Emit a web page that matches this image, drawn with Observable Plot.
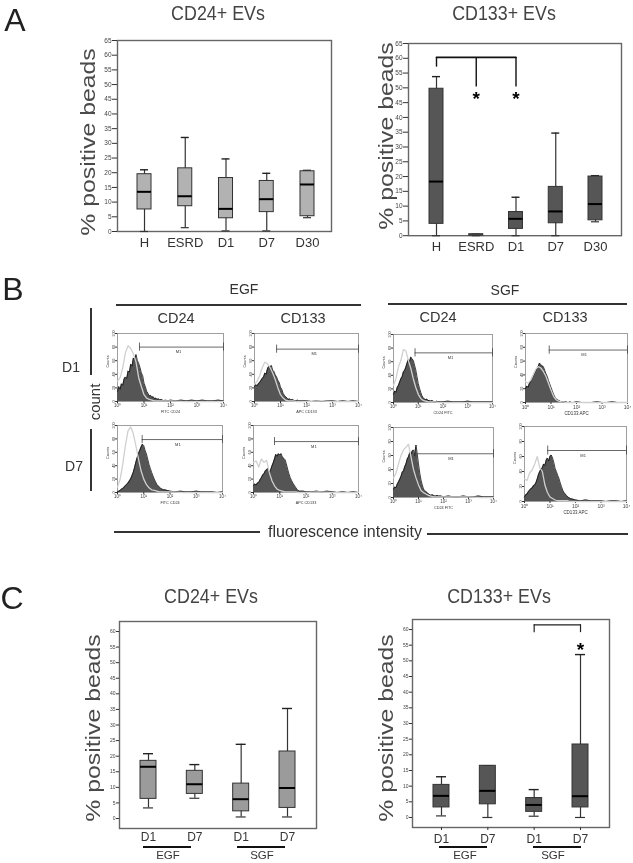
<!DOCTYPE html>
<html><head><meta charset="utf-8">
<script src="https://cdn.jsdelivr.net/npm/d3@7"></script>
<script src="https://cdn.jsdelivr.net/npm/@observablehq/plot@0.6"></script>
<style>
html,body{margin:0;padding:0;background:#fff}
#page{position:relative;width:633px;height:863px;overflow:hidden;font-family:"Liberation Sans",Arial,sans-serif;color:#333;filter:blur(.35px)}
#page svg{position:absolute;overflow:visible;background:transparent;font-family:"Liberation Sans",Arial,sans-serif}
.lb{position:absolute;white-space:nowrap;transform:translate(-50%,-50%);line-height:1}
.ln{position:absolute;background:#333}
</style></head><body><div id="page"></div>
<script>
// ---- Panel A data
const groupsA=["H","ESRD","D1","D7","D30"];
const a24Low=[0,1.3,0.2,0.2,4.7];
const a24Q1=[7.5,8.6,4.5,6.6,5.2];
const a24Med=[13.5,12,7.7,11,16];
const a24Q3=[19.5,21.5,18.2,17.2,20.5];
const a24High=[21,32,24.7,19.8,20.8];
const a133Low=[0,0,0,0,4.7];
const a133Q1=[4,0,2.3,4.2,5.2];
const a133Med=[18.3,null,5.7,8.2,10.7];
const a133Q3=[49.7,0.5,8,16.5,20];
const a133High=[53.8,0.5,13,34.7,20.3];
// ---- Panel C data
const groupsC=["EGF D1","EGF D7","SGF D1","SGF D7"];
const c24Low=[3.4,6.5,0.5,0.5];
const c24Q1=[6.3,7.9,2.3,3.4];
const c24Med=[16.6,11,6.2,9.8];
const c24Q3=[18.5,15.3,11.2,21.5];
const c24High=[20.8,17.3,23.8,35.3];
const c133Low=[0.5,0,0.4,0];
const c133Q1=[3.2,4.2,1.8,3.2];
const c133Med=[6.9,8.5,4,6.8];
const c133Q3=[10.4,16.5,6.2,23.3];
const c133High=[13,16.5,8.9,52];
// ---- Panel B data: decade positions and counts
const fillLog=[0,.05,.1,.15,.2,.25,.3,.35,.4,.45,.5,.55,.6,.65,.7,.75,.8,.85,.9,.95,1,1.05,1.1,1.15,1.2,1.25,1.3,1.35,1.4,1.45,1.5,1.55,1.6,1.65,1.7,1.75,1.8,1.9,2,2.2,2.4,2.6,2.8,3,3.2,3.4,3.6,3.8,4];
const ctrlLog=[0,.1,.2,.3,.4,.5,.6,.7,.8,.9,1,1.1,1.2,1.3,1.4,1.5,1.6,1.7,1.8,2,2.5,3,3.5,4];
const egf24D1=[15,22,18,26,24,33,36,34,45,43,55,52,64,62,69,60,56,50,42,38,27,22,15,12,8,9,6,7,4,5,3,4,2,3,2,1,2,1,2,1,2,1,2,1,2,1,1,2,1];
const egf24D1Ctrl=[30,35,50,72,82,78,70,58,35,22,10,5,3,2,1,1,1,1,1,1,0,0,0,0];
const egf133D1=[22,25,23,26,28,31,34,36,42,40,48,52,50,53,46,44,39,36,31,28,21,18,12,9,7,5,3,4,2,3,2,1,1,2,1,1,1,1,1,0,1,0,1,1,0,1,0,1,0];
const egf133D1Ctrl=[25,30,38,50,58,55,50,42,32,20,10,5,2,1,1,1,0,0,0,0,1,0,0,0];
const egf24D7=[1,2,3,5,6,8,10,12,14,17,20,25,30,37,45,52,58,63,68,72,70,63,58,50,42,36,30,25,20,16,12,10,8,6,5,4,4,3,2,1,2,1,1,2,1,1,1,0,1];
const egf24D7Ctrl=[8,20,42,70,92,98,88,70,50,32,20,12,7,4,3,2,1,1,1,1,0,0,0,0];
const egf133D7=[10,13,11,14,15,19,22,26,28,32,34,36,30,33,39,44,50,57,54,58,56,58,53,51,49,43,35,28,22,18,14,11,8,5,3,2,2,2,1,1,2,1,2,1,0,1,0,1,0];
const egf133D7Ctrl=[45,47,38,50,45,48,30,18,10,5,3,2,1,1,1,1,1,0,0,0,1,0,0,0];
const sgf24D1=[12,17,15,22,25,30,35,38,45,47,52,58,63,60,67,64,62,55,48,38,28,21,15,10,7,5,4,5,3,3,2,3,2,1,1,2,1,1,1,2,1,1,1,2,1,1,1,1,1];
const sgf24D1Ctrl=[25,35,52,62,78,76,62,50,35,22,12,6,3,2,1,1,1,1,0,0,0,0,0,0];
const sgf133D1=[20,24,22,27,30,35,38,42,46,49,52,57,55,53,52,47,42,38,32,27,22,17,12,8,5,4,3,2,1,1,1,1,1,0,0,1,0,0,1,0,0,0,1,0,0,1,0,0,0];
const sgf133D1Ctrl=[30,28,32,40,48,52,50,45,38,28,18,9,4,2,1,1,0,0,0,0,0,0,0,0];
const sgf24D7=[12,15,14,19,22,26,30,36,38,44,48,55,58,64,62,66,68,60,75,62,48,35,25,18,12,10,8,7,5,4,3,4,3,2,2,3,2,2,1,2,1,1,2,1,1,2,1,1,1];
const sgf24D7Ctrl=[28,35,48,60,68,72,76,58,40,28,18,10,7,5,3,2,1,1,1,1,1,1,0,0];
const sgf133D7=[6,9,10,13,15,17,18,21,22,25,30,36,40,43,45,50,48,55,58,54,60,62,58,52,44,40,35,31,25,20,15,12,10,8,6,5,4,3,2,1,2,1,1,1,0,1,1,0,1];
const sgf133D7Ctrl=[30,28,38,42,50,60,45,40,22,12,6,4,2,1,1,1,1,1,0,0,0,0,0,0];
const countTicks=[0,20,40,60,80,100];
const decadeTicks=[0,1,2,3,4];
const decadeLabels=["10⁰","10¹","10²","10³","10⁴"];
// M1 gate: start decade and count level
const gateStart=[.83,.85,.94,.8,.87,.93,.87,.91];
const gateLevel=[80,77,79,76,73,76,62.5,68];
const flowLabels=["FITC CD24","APC CD133","FITC CD24","APC CD133","CD24 FITC","CD133 APC","CD24 FITC","CD133 APC"];
const flowFill=[egf24D1,egf133D1,egf24D7,egf133D7,sgf24D1,sgf133D1,sgf24D7,sgf133D7];
const flowCtrl=[egf24D1Ctrl,egf133D1Ctrl,egf24D7Ctrl,egf133D7Ctrl,sgf24D1Ctrl,sgf133D1Ctrl,sgf24D7Ctrl,sgf133D7Ctrl];

const page=document.getElementById("page");
function label(t,x,y,size,o={}){
  const d=document.createElement("div");d.className="lb";d.textContent=t;
  d.style.left=x+"px";d.style.top=y+"px";d.style.fontSize=size+"px";
  d.style.color=o.color||"#333";
  if(o.spacing)d.style.letterSpacing=o.spacing+"px";
  d.style.transform="translate(-50%,-50%)"+(o.rotate?` rotate(${o.rotate}deg)`:"")+(o.sx?` scaleX(${o.sx})`:"");
  page.appendChild(d);
}
function hline(x1,x2,y,w=1.5,c="#333"){
  const d=document.createElement("div");d.className="ln";
  d.style.cssText+=`left:${x1}px;top:${y-w/2}px;width:${x2-x1}px;height:${w}px;background:${c}`;page.appendChild(d);
}
function vline(x,y1,y2,w=1.5,c="#333"){
  const d=document.createElement("div");d.className="ln";
  d.style.cssText+=`left:${x-w/2}px;top:${y1}px;width:${w}px;height:${y2-y1}px;background:${c}`;page.appendChild(d);
}
function place(svg,left,top){svg.style.left=left+"px";svg.style.top=top+"px";svg.style.maxWidth="none";page.appendChild(svg);}

function boxPanel(p){
  const rows=p.groups.map((g,i)=>({g,low:p.low[i],q1:p.q1[i],med:p.med[i],q3:p.q3[i],high:p.high[i]}));
  const L=p.frame[0]-32,T=p.frame[2]-12,R=p.frame[1]+8,B=p.frame[3]+26;
  const svg=Plot.plot({
    width:R-L,height:B-T,marginLeft:32,marginRight:8,marginTop:12,marginBottom:26,
    x:{type:"band",domain:p.groups,range:[p.xr[0]-L,p.xr[1]-L],paddingInner:p.pi,paddingOuter:0,round:false},
    y:{domain:p.yd,label:null},
    marks:[
      Plot.frame({stroke:"#666",strokeWidth:1.4}),
      Plot.axisY({ticks:d3.range(0,p.yd[1]+.1,5).filter(v=>v<=p.ymax),tickSize:p.ts,tickPadding:1,fontSize:p.fs,label:null,stroke:"#333",color:"#444"}),
      Plot.axisX({tickSize:p.xts||0,tickPadding:p.xpad,fontSize:p.xfs,label:null,color:"#333",tickFormat:d=>String(d).split(" ").pop()}),
      Plot.ruleX(rows,{x:"g",y1:"low",y2:"high",stroke:"#333",strokeWidth:1.2}),
      Plot.tickY(rows,{x:"g",y:"low",stroke:"#333",strokeWidth:1.2,insetLeft:3,insetRight:3}),
      Plot.tickY(rows,{x:"g",y:"high",stroke:"#222",strokeWidth:1.4,insetLeft:3,insetRight:3}),
      Plot.barY(rows,{x:"g",y1:"q1",y2:"q3",fill:p.fill,stroke:"#333",strokeWidth:1}),
      Plot.tickY(rows,{x:"g",y:"med",stroke:"#000",strokeWidth:2}),
      ...(p.extra||[])
    ]
  });
  place(svg,L,T);
}

// Significance brackets
const dropsA=[{g:"H",y1:60.3,y2:57},{g:"ESRD",y1:60.3,y2:50.3},{g:"D1",y1:60.3,y2:50.3}];
const starsA=[{g:"ESRD",y:47.3},{g:"D1",y:47.3}];
const dropsC=[{g:"SGF D1",y1:61.5,y2:59},{g:"SGF D7",y1:61.5,y2:59}];
const starsC=[{g:"SGF D7",y:54.6}];

boxPanel({groups:groupsA,low:a24Low,q1:a24Q1,med:a24Med,q3:a24Q3,high:a24High,fill:"#b2b2b2",
  frame:[117,331,40,231],xr:[137,314],pi:.656,yd:[0,65],ymax:65,ts:5,fs:6.5,xpad:6,xfs:13});
boxPanel({groups:groupsA,low:a133Low,q1:a133Q1,med:a133Med,q3:a133Q3,high:a133High,fill:"#565656",
  frame:[408,621,42.5,234.7],xr:[429,602],pi:.648,yd:[0,65],ymax:65,ts:5,fs:6.5,xpad:6,xfs:13,
  extra:[
    Plot.lineY([{g:"H",y:60.3},{g:"D1",y:60.3}],{x:"g",y:"y",stroke:"#111",strokeWidth:1.6}),
    Plot.ruleX(dropsA,{x:"g",y1:"y1",y2:"y2",stroke:"#111",strokeWidth:1.4}),
    Plot.text(starsA,{x:"g",y:"y",text:()=>"*",fontSize:19,fontWeight:"bold",fill:"#000",dy:3})
  ]});
boxPanel({groups:groupsC,low:c24Low,q1:c24Q1,med:c24Med,q3:c24Q3,high:c24High,fill:"#9b9b9b",
  frame:[119,316,621,828],xr:[140,295],pi:.655,yd:[-3.2,63.2],ymax:60,ts:3,fs:5,xpad:4,xfs:12});
boxPanel({groups:groupsC,low:c133Low,q1:c133Q1,med:c133Med,q3:c133Q3,high:c133High,fill:"#565656",
  frame:[412,609,619,827],xr:[433,588],pi:.655,yd:[-3.2,63.2],ymax:60,ts:3,fs:5,xpad:4,xfs:12,xts:3,
  extra:[
    Plot.lineY([{g:"SGF D1",y:61.5},{g:"SGF D7",y:61.5}],{x:"g",y:"y",stroke:"#222",strokeWidth:1.2}),
    Plot.ruleX(dropsC,{x:"g",y1:"y1",y2:"y2",stroke:"#222",strokeWidth:1.2}),
    Plot.text(starsC,{x:"g",y:"y",text:()=>"*",fontSize:19,fontWeight:"bold",fill:"#000",dy:3})
  ]});

// Panel B histograms: frame position on the page
const flowFrames=[[117,223,333,401],[254,358,333,401],[117,222,425,492],[253,358,425,492],
  [393,492,334,402],[525,627,333,402],[393,493,427,497],[524,626,426,501]];
flowFrames.forEach((f,i)=>{
  const [l,r,t,b]=f;
  const fillRows=fillLog.map((x,j)=>({x,v:flowFill[i][j]}));
  const ctrlRows=ctrlLog.map((x,j)=>({x,c:flowCtrl[i][j]}));
  const big=i===5||i===7;
  const svg=Plot.plot({
    width:r-l+20,height:b-t+16,marginLeft:14,marginRight:6,marginTop:2,marginBottom:14,
    x:{domain:[0,4],label:null},y:{domain:[0,100],label:null},
    marks:[
      Plot.frame({stroke:"#777",strokeWidth:.7}),
      Plot.axisY({ticks:countTicks,tickSize:2,tickPadding:0.5,fontSize:3.8,tickRotate:-90,label:null,color:"#444",stroke:"#333"}),
      Plot.axisX({ticks:decadeTicks,tickSize:2,tickPadding:0.5,fontSize:big?5:4.5,tickFormat:d=>decadeLabels[d],label:null,color:"#444",stroke:"#333"}),
      Plot.areaY(fillRows,{x:"x",y:"v",fill:"#555"}),
      Plot.lineY(fillRows,{x:"x",y:"v",stroke:"#111",strokeWidth:.8}),
      Plot.lineY(ctrlRows,{x:"x",y:"c",stroke:"#d0d0d0",strokeWidth:1.3}),
      Plot.ruleY([gateLevel[i]],{x1:gateStart[i],x2:4,stroke:"#444",strokeWidth:.8}),
      Plot.ruleX([gateStart[i],4],{y1:gateLevel[i]-6,y2:gateLevel[i]+6,stroke:"#444",strokeWidth:.8}),
      Plot.text(["M1"],{x:[2.3],y:[gateLevel[i]-7],fontSize:4,fill:"#333"}),
      Plot.text([flowLabels[i]],{frameAnchor:"bottom",dy:big?12:11,fontSize:big?4.5:3.8,fill:"#333"}),
      Plot.text(["Counts"],{frameAnchor:"left",dx:-10,rotate:-90,fontSize:3.8,fill:"#333"})
    ]
  });
  place(svg,l-14,t-2);
});

// Page text and lines
const ink="#444";
label("A",15,20,32,{color:"#222"});
label("B",13,289,32,{color:"#222"});
label("C",12,598,32,{color:"#222"});
label("CD24+ EVs",218,12,21,{color:ink,sx:.85});
label("CD133+ EVs",504,12,21,{color:ink,sx:.85});
label("CD24+ EVs",211,595,21,{color:ink,sx:.85});
label("CD133+ EVs",499,595,21,{color:ink,sx:.85});
[[87,142],[385,136],[92,728],[385,728]].forEach(([x,y])=>label("% positive beads",x,y,21,{rotate:-90,sx:1.18,color:"#4a4a4a"}));
label("EGF",244,289,14);label("SGF",505,290,14);
hline(116,361,305);hline(388,627,304);
label("CD24",176,318,14.5);label("CD133",303,318,14.5);label("CD24",438,317,14.5);label("CD133",565,317,14.5);
label("D1",71,367,14);label("D7",74,466,14);
label("count",94,402,15,{rotate:-90});
vline(91,308,375);vline(91,429,491);
hline(114,260,532);label("fluorescence intensity",345,532,16);hline(427,628,534);
hline(143,191,847,1.6,"#111");hline(237,285,847,1.6,"#111");
hline(439,487,847,1.6,"#111");hline(533,581,847,1.6,"#111");
label("EGF",168,856,11.5);label("SGF",262,856,11.5);label("EGF",465,856,11.5);label("SGF",553,856,11.5);
</script></body></html>
